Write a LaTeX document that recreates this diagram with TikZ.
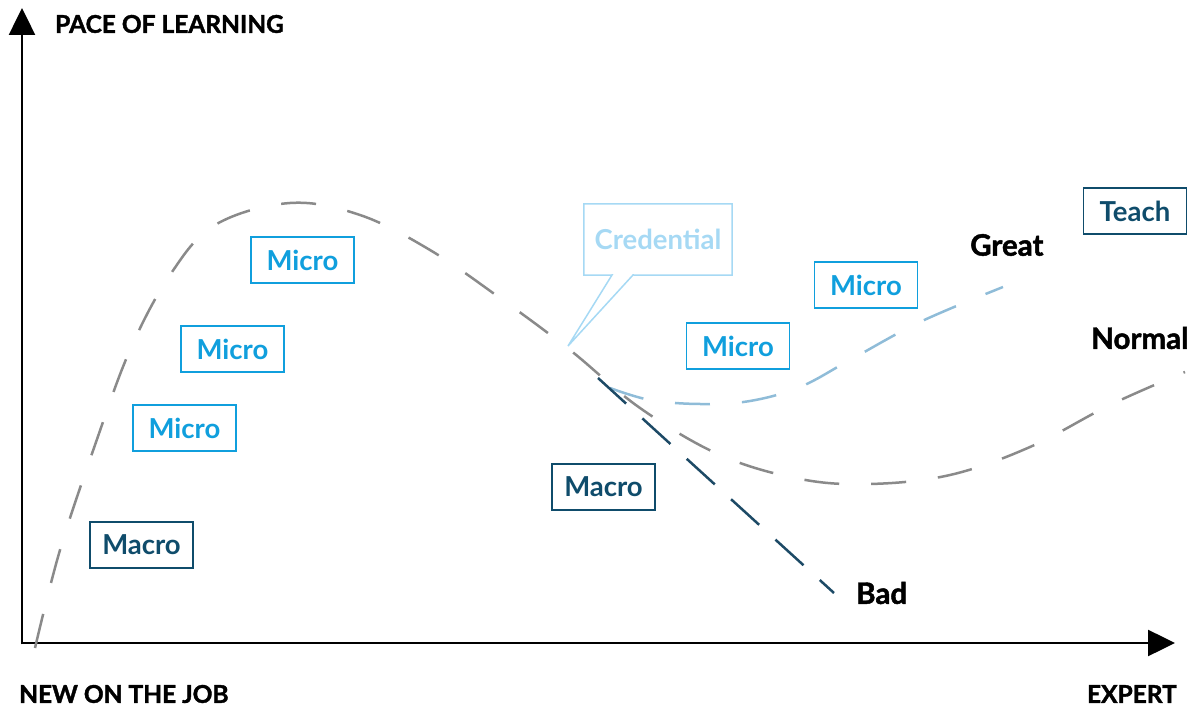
\documentclass[tikz,border=0pt]{standalone}
\usepackage{fontspec}
\setmainfont{Lato}
\newfontfamily\heavy{Lato}[BoldFeatures={FakeBold=1.6}]
\usetikzlibrary{arrows.meta}
\definecolor{dk}{HTML}{0F4C6B}
\definecolor{br}{HTML}{109FDD}
\definecolor{lt}{HTML}{A6D9F4}
\definecolor{gr}{HTML}{8A8A8A}
\definecolor{gl}{HTML}{8FBCD8}
\definecolor{bl}{HTML}{1D4A66}
\tikzset{
  box/.style={draw, line width=1.5pt, minimum width=103pt, minimum height=46pt, inner sep=0pt, font=\fontsize{27.5}{27.5}\selectfont\bfseries},
  macrobox/.style={box, draw=dk, text=dk},
  microbox/.style={box, draw=br, text=br},
  axlabel/.style={font=\heavy\fontsize{24.5}{24.5}\selectfont\bfseries, text=black, inner sep=0pt},
  curvelabel/.style={font=\heavy\fontsize{29.5}{29.5}\selectfont\bfseries, text=black, inner sep=0pt},
  curve/.style={line width=2.5pt, dash pattern=on 35pt off 32pt},
}
\begin{document}
\begin{tikzpicture}[x=1pt,y=-1pt]
\useasboundingbox (0,0) rectangle (1197,708);
% axes
\coordinate (o) at (22,643);
\coordinate (ytip) at (22,8);
\coordinate (xtip) at (1175,643);
\draw[line width=2.5pt, -{Triangle[length=27pt,width=26pt]}] (22,644.25) -- (ytip);
\draw[line width=2.5pt, -{Triangle[length=27pt,width=26pt]}] (20.75,643) -- (xtip);
\node[axlabel, anchor=west] (pace) at (55,24) {PACE OF LEARNING};
\node[axlabel, anchor=west] (new) at (19,694) {NEW ON THE JOB};
\node[axlabel, anchor=east] (expert) at (1177,694) {EXPERT};
% curves
\draw[curve, gr] plot[smooth, tension=0.6] coordinates {(35,648) (60,550) (95,445) (130,350) (170,275) (215,225) (290,203) (360,215) (430,250) (500,298) (570,350) (640,408) (720,455) (800,479) (870,484) (950,475) (1030,447) (1110,405) (1185,372)};
\draw[curve, gl] plot[smooth, tension=0.6] coordinates {(610,388) (650,400) (700,404) (750,401) (800,387) (850,360) (920,322) (1003,287)};
\draw[line width=2.5pt, bl, dash pattern=on 38pt off 22pt] (598,378) -- (834,593);
% boxes
\node[macrobox] (macro1) at (141.5,545) {Macro};
\node[microbox] (micro1) at (184.5,428) {Micro};
\node[microbox] (micro2) at (232.5,349) {Micro};
\node[microbox] (micro3) at (302.5,260) {Micro};
\node[macrobox] (macro2) at (603.5,487) {Macro};
\node[microbox] (micro4) at (738,346) {Micro};
\node[microbox] (micro5) at (866,285) {Micro};
\node[macrobox] (teach) at (1135,211) {Teach};
% credential callout
\node[minimum width=148pt, minimum height=71pt, inner sep=0pt, font=\fontsize{27.5}{27.5}\selectfont\bfseries, text=lt] (cred) at (658,239.5) {Credential};
\coordinate (credtip) at (568,346);
\draw[lt, line width=1.5pt] (cred.south west) -- (cred.north west) -- (cred.north east) -- (cred.south east) -- (633,275) -- (credtip) -- (612,275) -- cycle;
% curve labels
\node[curvelabel, anchor=west] (great) at (970,245) {Great};
\node[curvelabel, anchor=west] (normal) at (1091,338) {Normal};
\node[curvelabel, anchor=west] (bad) at (856,593) {Bad};
\end{tikzpicture}
\end{document}
